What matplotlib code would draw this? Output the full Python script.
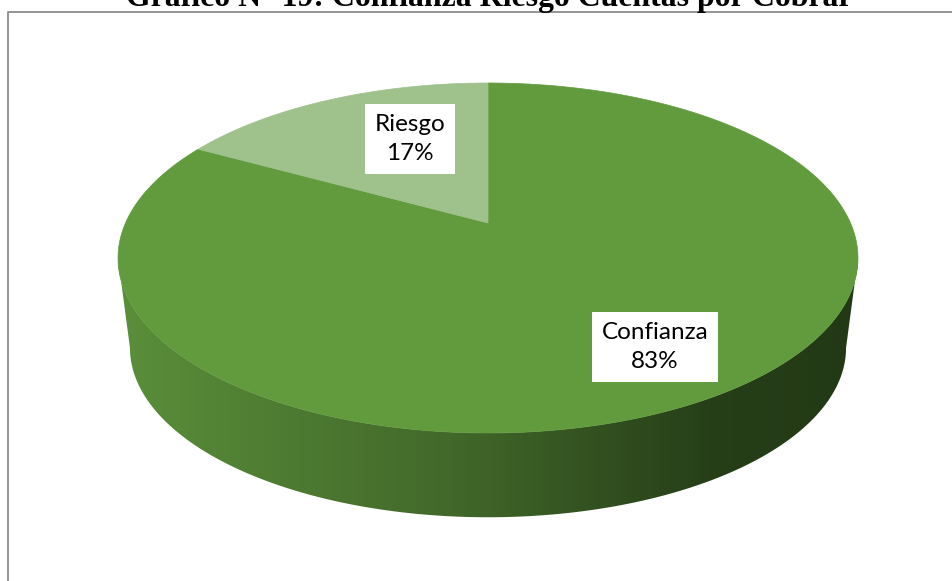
import numpy as np
import matplotlib.pyplot as plt
from matplotlib.patches import Polygon
from matplotlib.colors import LinearSegmentedColormap

title = "Gráfico N° 19: Confianza Riesgo Cuentas por Cobrar"
labels = ["Confianza", "Riesgo"]
values = [83, 17]
top_colors = ["#629a3e", "#9fc18b"]
side_stops = [(0.0, "#5a8f3a"), (0.45, "#42682a"), (0.8, "#263f18"), (1.0, "#233916")]

W, H = 953, 581
fig = plt.figure(figsize=(W / 100, H / 100), dpi=100)
ax = fig.add_axes([0, 0, 1, 1])
ax.set_xlim(0, W)
ax.set_ylim(H, 0)
ax.axis("off")

# perspective pie: circle in a tilted plane, k = depth shrink factor
cx, cy = 488, 223
R, h, k = 362.5, 168, 0.2
Rb, hb, cyb = 350.8, 162.6, 314   # bottom face


def proj(t, R=R, h=h, cy=cy, r=1.0):
    u = r * np.cos(t)
    v = r * np.sin(t)
    s = 1 / (1 + k * v)
    return cx + R * u * s, cy - h * v * s


# side of the cake (front half only)
t0 = np.arcsin(k)
tf = np.linspace(np.pi + t0, 2 * np.pi - t0, 300)
xt, yt = proj(tf)
xb, yb = proj(tf[::-1], Rb, hb, cyb)
side = Polygon(np.column_stack([np.r_[xt, xb], np.r_[yt, yb]]),
               closed=True, fc="none", ec="none", transform=ax.transData)
ax.add_patch(side)
cmap = LinearSegmentedColormap.from_list("side", side_stops)
x0, x1 = xt.min(), xt.max()
im = ax.imshow(np.linspace(0, 1, 512).reshape(1, -1), cmap=cmap, aspect="auto",
               extent=[x0, x1, yb.max() + 2, yt.min() - 2], interpolation="bilinear")
im.set_clip_path(side)

# top face wedges, starting at 12 o'clock going clockwise
total = sum(values)
start = 90.0
for val, col in zip(values, top_colors):
    end = start - val / total * 360
    tt = np.radians(np.linspace(start, end, 300))
    xs, ys = proj(tt)
    pts = np.column_stack([np.r_[cx, xs], np.r_[cy, ys]])
    ax.add_patch(Polygon(pts, closed=True, fc=col, ec=col, lw=0.5))
    start = end

# data labels
label_pos = [(655, 347), (410, 139)]
for lab, val, (lx, ly) in zip(labels, values, label_pos):
    ax.text(lx, ly, f"{lab}\n{val}%", ha="center", va="center", fontsize=17.5,
            family="Lato", linespacing=1.45, color="#000000",
            bbox=dict(boxstyle="square,pad=0.4", fc="white", ec="none"))

# chart frame (left and top edges visible)
ax.plot([8, 8, W + 5], [H + 5, 12, 12], color="#8c8c8c", lw=1.3, clip_on=False)

# title, partly cut off at the top like the source image
tt_ = ax.text(489.5, 6, title, ha="center", va="baseline", fontsize=20,
              family="Liberation Serif", weight="bold", clip_on=False)
fig.canvas.draw()
w = tt_.get_window_extent().width
tt_.set_fontsize(20 * 725 / w)

fig.savefig("out.png", dpi=100, facecolor="white")
